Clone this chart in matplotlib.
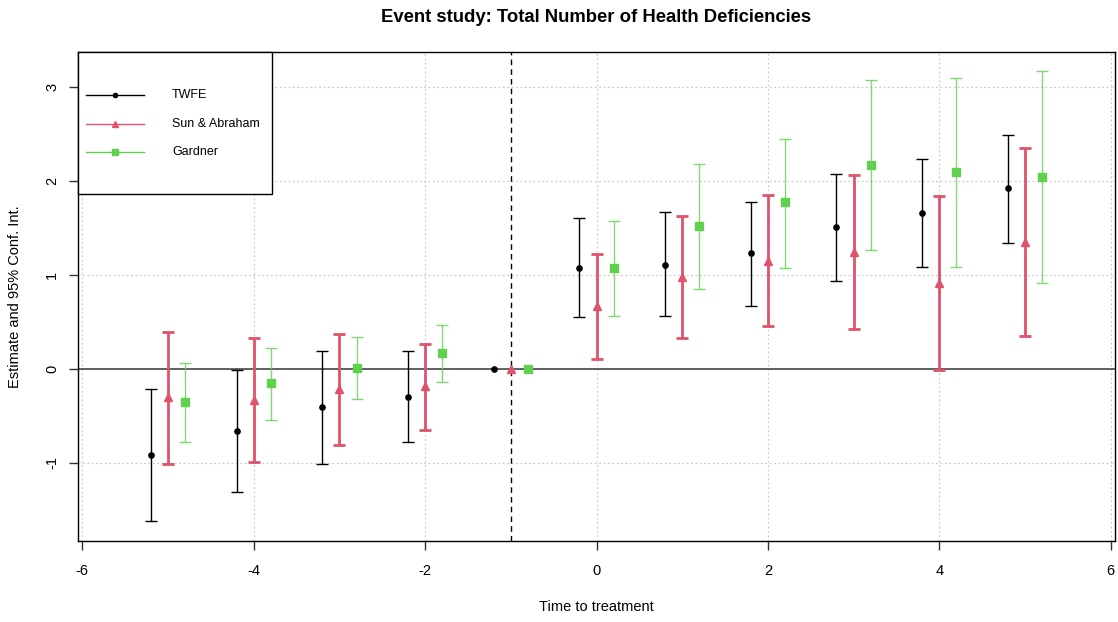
import numpy as np
import matplotlib.pyplot as plt
from matplotlib.lines import Line2D
from matplotlib.patches import Rectangle

plt.rcParams['font.family'] = ['Liberation Sans', 'DejaVu Sans']
plt.rcParams['axes.unicode_minus'] = False

periods = [-5, -4, -3, -2, -1, 0, 1, 2, 3, 4, 5]

twfe_est = [-0.915, -0.66, -0.41, -0.295, 0.0, 1.075, 1.105, 1.23, 1.505, 1.655, 1.92]
twfe_lo = [-1.62, -1.31, -1.01, -0.78, 0.0, 0.55, 0.56, 0.67, 0.94, 1.085, 1.34]
twfe_hi = [-0.215, -0.01, 0.195, 0.195, 0.0, 1.60, 1.665, 1.775, 2.07, 2.23, 2.49]

sa_est = [-0.30, -0.33, -0.215, -0.185, 0.0, 0.67, 0.975, 1.15, 1.245, 0.91, 1.345]
sa_lo = [-1.01, -0.99, -0.81, -0.645, 0.0, 0.11, 0.33, 0.46, 0.42, -0.015, 0.35]
sa_hi = [0.39, 0.33, 0.375, 0.27, 0.0, 1.22, 1.63, 1.845, 2.06, 1.835, 2.35]

gard_est = [-0.355, -0.155, 0.01, 0.17, 0.0, 1.07, 1.515, 1.77, 2.17, 2.095, 2.04]
gard_lo = [-0.775, -0.54, -0.325, -0.135, 0.0, 0.56, 0.855, 1.075, 1.26, 1.085, 0.915]
gard_hi = [0.06, 0.22, 0.34, 0.465, 0.0, 1.575, 2.175, 2.45, 3.07, 3.09, 3.165]

labels = ["TWFE", "Sun & Abraham", "Gardner"]
colors = ["black", "#DF536B", "#61D04F"]
markers = ["o", "^", "s"]

W, H = 1118, 622
fig = plt.figure(figsize=(W / 100, H / 100), dpi=100)
ax = fig.add_axes([78 / W, 1 - 541 / H, (1115 - 78) / W, (541 - 52) / H])

def fx(px):
    return px / W

def fy(py):
    return 1 - py / H

x = np.array(periods, dtype=float)

# grid
for gx in range(-6, 7, 2):
    ax.axvline(gx, color="#cccccc", lw=0.9, ls=(0, (1.5, 2)), zorder=0)
for gy in range(-1, 4):
    ax.axhline(gy, color="#cccccc", lw=0.9, ls=(0, (1.5, 2)), zorder=0)

ax.axhline(0, color="#555555", lw=1.3, zorder=1)
ax.axvline(-1, color="black", lw=1.0, ls=(0, (4, 3)), zorder=1)

def draw(xs, est, lo, hi, col, lw, marker, ms, alpha_bar):
    est = np.array(est); lo = np.array(lo); hi = np.array(hi)
    keep = hi != lo
    ax.errorbar(xs[keep], est[keep], yerr=[est[keep] - lo[keep], hi[keep] - est[keep]],
                fmt="none", ecolor=col, elinewidth=lw, capsize=4.3, capthick=lw,
                alpha=alpha_bar, zorder=2)
    ax.plot(xs, est, ls="none", marker=marker, color=col, ms=ms, zorder=3)

draw(x - 0.2, twfe_est, twfe_lo, twfe_hi, colors[0], 1.0, "o", 3.8, 1.0)
draw(x, sa_est, sa_lo, sa_hi, colors[1], 2.0, "^", 6, 1.0)
draw(x + 0.2, gard_est, gard_lo, gard_hi, colors[2], 1.0, "s", 5.2, 0.8)

ax.set_xlim(-6.05, 6.05)
ax.set_ylim(-1.83, 3.37)
ax.set_xticks(range(-6, 7, 2))
ax.set_yticks(range(-1, 4))
for lab in ax.get_yticklabels():
    lab.set_rotation(90)
    lab.set_va("center")
ax.tick_params(labelsize=10.5, length=6.5, direction="out", width=1, color="#333333")
ax.tick_params(axis="x", pad=10)
ax.tick_params(axis="y", pad=7)
for sp in ax.spines.values():
    sp.set_linewidth(1.0)

ax.set_xlabel("Time to treatment", fontsize=10.5, va="center")
ax.xaxis.set_label_coords(0.5, -(607 - 541) / (541 - 52))
ax.set_ylabel("Estimate and 95% Conf. Int.", fontsize=10.5, va="center")
ax.yaxis.set_label_coords(-(78 - 15) / (1115 - 78), 0.5)
fig.text(fx((78 + 1115) / 2), fy(17), "Event study: Total Number of Health Deficiencies",
         fontsize=13.3, fontweight="bold", ha="center", va="center")

# legend box drawn like the R one
fig.patches.append(Rectangle((fx(78), fy(194)), fx(272 - 78), (194 - 52) / H,
                             transform=fig.transFigure, fill=True, facecolor="white",
                             edgecolor="black", lw=1.0, zorder=5))
rows = [95, 124, 152]
leg_ms = [3, 4.5, 4.5]
for i in range(3):
    fig.add_artist(Line2D([fx(86), fx(144)], [fy(rows[i]), fy(rows[i])], color=colors[i],
                          lw=1.0, zorder=6))
    fig.add_artist(Line2D([fx(115)], [fy(rows[i])], color=colors[i], marker=markers[i],
                          ms=leg_ms[i], ls="none", zorder=6))
    fig.text(fx(172), fy(rows[i]), labels[i], fontsize=9, va="center", ha="left", zorder=6)

fig.savefig("out.png", dpi=100)
